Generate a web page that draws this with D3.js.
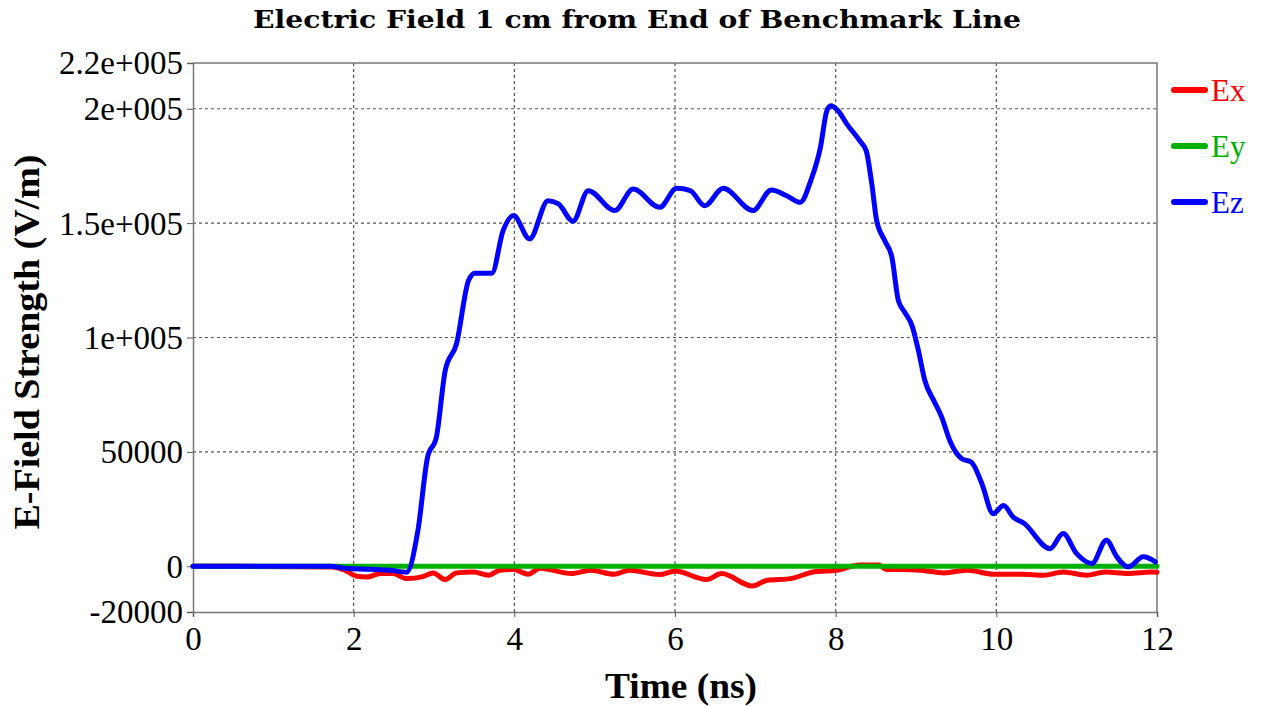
<!DOCTYPE html>
<html>
<head>
<meta charset="utf-8">
<script src="https://cdn.jsdelivr.net/npm/d3@7"></script>
<style>
  body { margin: 0; background: #fff; }
</style>
</head>
<body>
<div id="chart"></div>
<script>
// values: [time ns, field V/m]
const exData = [
  [0, 0], [1.73, -300], [1.89, -1750], [2.04, -4400], [2.16, -4700], [2.33, -3200],
  [2.49, -3200], [2.66, -5400], [2.87, -4400], [2.99, -2900], [3.14, -5800], [3.28, -2900],
  [3.49, -2500], [3.68, -3900], [3.82, -1750], [3.99, -1400], [4.17, -3500], [4.32, -870],
  [4.71, -3200], [4.95, -1750], [5.24, -3500], [5.43, -1750], [5.81, -3600], [6.0, -2100],
  [6.39, -5800], [6.58, -3200], [6.96, -8600], [7.15, -6100], [7.44, -5400], [7.72, -2500],
  [8.01, -1750], [8.3, 500], [8.54, 500], [8.63, -1400], [8.82, -1400], [9.06, -1750],
  [9.35, -2900], [9.64, -1750], [9.97, -3500], [10.31, -3500], [10.59, -3900], [10.83, -2500],
  [11.12, -3900], [11.36, -2500], [11.64, -3200], [11.93, -2500], [12, -2600]
];
const eyData = [[0, 0], [2, 0], [4, 0], [6, 0], [8, 0], [10, 0], [12, 0]];
const ezData = [
  [0, 0], [1.71, 0], [1.89, -870], [2.2, -1300], [2.45, -1750], [2.66, -2600], [2.8, 15700],
  [2.92, 47700], [3.03, 56500], [3.14, 85600], [3.28, 97250], [3.43, 124900], [3.51, 128100],
  [3.72, 128100], [3.86, 146700], [3.99, 153300], [4.19, 143100], [4.42, 159800], [4.55, 158400],
  [4.73, 150800], [4.92, 164200], [5.25, 155500], [5.48, 164900], [5.81, 156900], [6.02, 165200],
  [6.19, 164200], [6.37, 157600], [6.6, 165200], [6.97, 155500], [7.2, 164500], [7.39, 162000],
  [7.56, 159100], [7.69, 168600], [7.81, 183100], [7.89, 199100], [7.94, 201300], [8.03, 199100],
  [8.14, 193300], [8.3, 186000], [8.38, 181700], [8.45, 167100], [8.51, 151100], [8.61, 142400],
  [8.7, 135100], [8.78, 116200], [8.86, 111000], [8.95, 105200], [9.03, 94300], [9.11, 81200],
  [9.22, 72500], [9.32, 65200], [9.42, 55000], [9.57, 47000], [9.69, 45500], [9.82, 36100],
  [9.96, 23000], [10.09, 26600], [10.21, 21500], [10.34, 18900], [10.67, 7700], [10.83, 14300],
  [11.0, 5500], [11.19, 1200], [11.37, 11400], [11.5, 4100], [11.64, -300], [11.83, 4100],
  [11.98, 1900]
];
const seriesNames = ["Ex", "Ey", "Ez"];
const seriesColors = ["#ff0000", "#00b000", "#0000ff"];
const xTicks = [0, 2, 4, 6, 8, 10, 12];
const yTicks = [-20000, 0, 50000, 100000, 150000, 200000, 220000];
const yTickLabels = ["-20000", "0", "50000", "1e+005", "1.5e+005", "2e+005", "2.2e+005"];

const width = 1261, height = 706;
const margin = {top: 63, right: 104, bottom: 94, left: 193};
const iw = width - margin.left - margin.right,
      ih = height - margin.top - margin.bottom;

const svg = d3.select("#chart").append("svg")
  .attr("width", width)
  .attr("height", height);

const x = d3.scaleLinear().domain([0, 12]).range([0, iw]);
const y = d3.scaleLinear().domain([-20000, 220000]).range([ih, 0]);

const g = svg.append("g")
  .attr("transform", "translate(" + margin.left + "," + margin.top + ")");

// grid
g.append("g").selectAll("line")
  .data(xTicks.filter(d => d > 0 && d < 12))
  .join("line")
    .attr("x1", d => x(d)).attr("x2", d => x(d))
    .attr("y1", 0).attr("y2", ih)
    .attr("stroke", "#555").attr("stroke-width", 1.2)
    .attr("stroke-dasharray", "3,3");
g.append("g").selectAll("line")
  .data(yTicks.filter(d => d > -20000 && d < 220000))
  .join("line")
    .attr("x1", 0).attr("x2", iw)
    .attr("y1", d => y(d)).attr("y2", d => y(d))
    .attr("stroke", "#555").attr("stroke-width", 1.2)
    .attr("stroke-dasharray", "3,3");

// frame
g.append("path")
  .attr("d", "M0,0H" + iw + "V" + ih)
  .attr("fill", "none").attr("stroke", "#777").attr("stroke-width", 1.5);

const xAxis = g.append("g")
  .attr("transform", "translate(0," + ih + ")")
  .call(d3.axisBottom(x).tickValues(xTicks).tickSize(5).tickPadding(10));
const yAxis = g.append("g")
  .call(d3.axisLeft(y).tickValues(yTicks).tickSize(6).tickPadding(4)
    .tickFormat((d, i) => yTickLabels[i]));

[xAxis, yAxis].forEach(a => {
  a.select(".domain").attr("stroke", "#777").attr("stroke-width", 1.5);
  a.selectAll(".tick line").attr("stroke", "#555");
  a.selectAll("text")
    .attr("font-family", "'Liberation Serif', serif")
    .attr("font-size", 33)
    .attr("fill", "#000");
});
yAxis.selectAll("text").attr("dy", "0.33em");

// series
const line = d3.line()
  .x(d => x(d[0]))
  .y(d => y(d[1]))
  .curve(d3.curveMonotoneX);

[exData, eyData, ezData].forEach((data, i) => {
  g.append("path")
    .datum(data)
    .attr("fill", "none")
    .attr("stroke", seriesColors[i])
    .attr("stroke-width", 5)
    .attr("stroke-linejoin", "round")
    .attr("stroke-linecap", "round")
    .attr("d", line);
});

// legend
const legend = svg.append("g")
  .attr("transform", "translate(1172,90)");
seriesNames.forEach((name, i) => {
  const row = legend.append("g").attr("transform", "translate(0," + (i * 56) + ")");
  row.append("line")
    .attr("x1", 2).attr("x2", 33)
    .attr("stroke", seriesColors[i]).attr("stroke-width", 6)
    .attr("stroke-linecap", "round");
  row.append("text")
    .attr("x", 39).attr("dy", "0.35em")
    .attr("font-family", "'Liberation Serif', serif")
    .attr("font-size", 31)
    .attr("fill", seriesColors[i])
    .text(name);
});

// title and axis labels
svg.append("text")
  .attr("x", 637).attr("y", 28)
  .attr("text-anchor", "middle")
  .attr("font-family", "'DejaVu Serif', serif")
  .attr("font-weight", "bold")
  .attr("font-size", 25)
  .attr("textLength", 768)
  .attr("lengthAdjust", "spacingAndGlyphs")
  .text("Electric Field 1 cm from End of Benchmark Line");

svg.append("text")
  .attr("x", 681).attr("y", 698)
  .attr("text-anchor", "middle")
  .attr("font-family", "'Liberation Serif', serif")
  .attr("font-weight", "bold")
  .attr("font-size", 36)
  .attr("textLength", 152)
  .attr("lengthAdjust", "spacingAndGlyphs")
  .text("Time (ns)");

svg.append("text")
  .attr("transform", "translate(39,342) rotate(-90)")
  .attr("text-anchor", "middle")
  .attr("font-family", "'Liberation Serif', serif")
  .attr("font-weight", "bold")
  .attr("font-size", 36)
  .attr("textLength", 375)
  .attr("lengthAdjust", "spacingAndGlyphs")
  .text("E-Field Strength (V/m)");
</script>
</body>
</html>
